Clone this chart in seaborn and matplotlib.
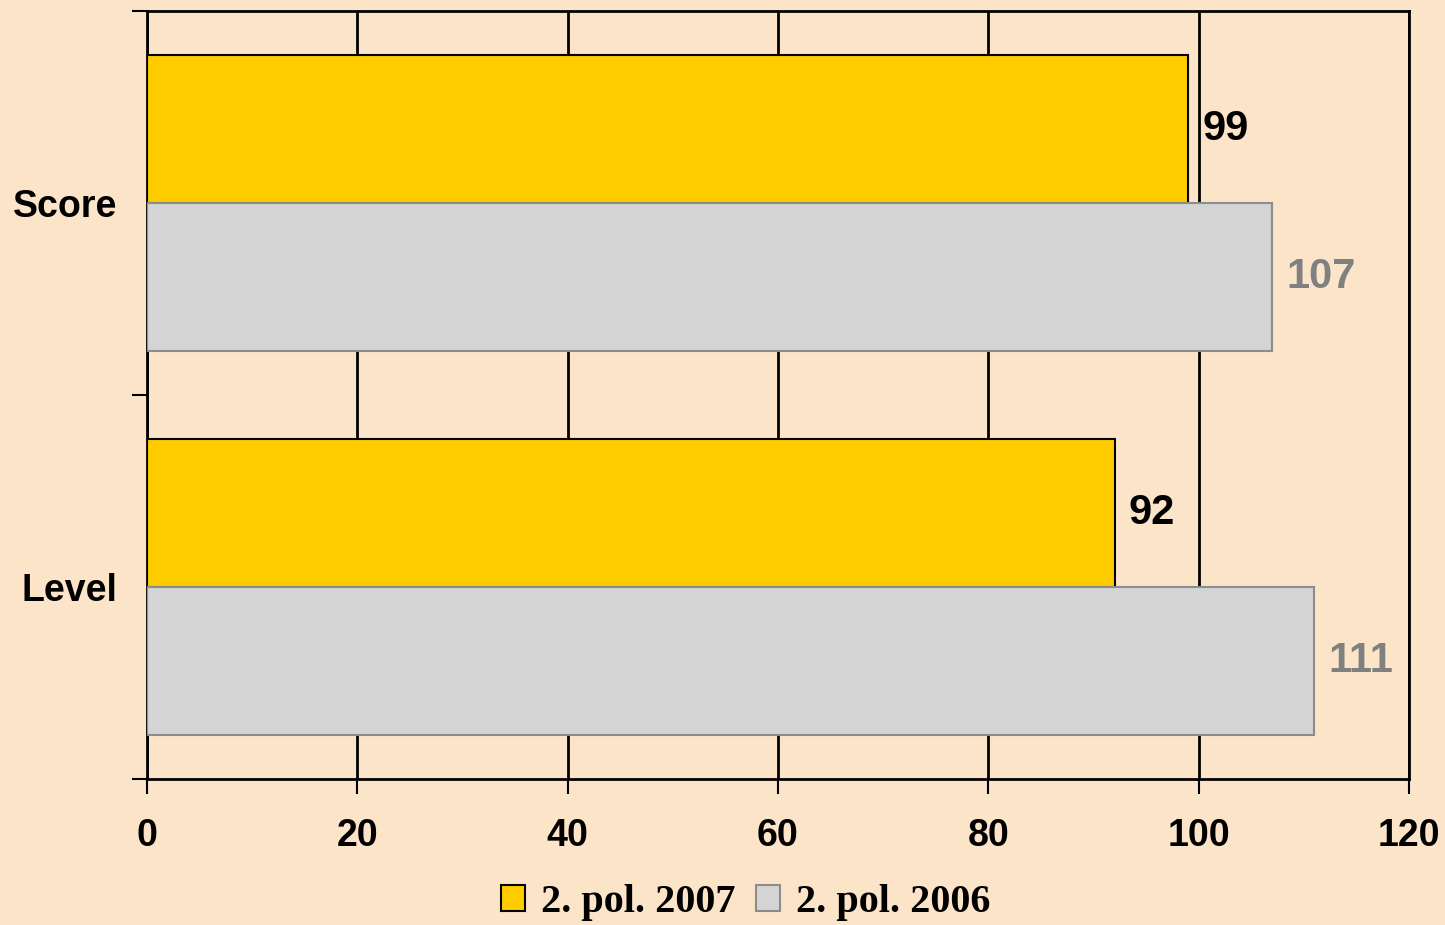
import pandas as pd
import seaborn as sns
import matplotlib.pyplot as plt
from matplotlib.patches import Patch

# data
indicators = ["Score", "Level"]
periods = ["2. pol. 2007", "2. pol. 2006"]
values_2007 = [99, 92]
values_2006 = [107, 111]

df = pd.DataFrame({
    "indicator": indicators * 2,
    "period": [periods[0]] * 2 + [periods[1]] * 2,
    "value": values_2007 + values_2006,
})

bg = "#FCE4C8"
yellow = "#FFCC00"
grey = "#D4D4D4"
grey_edge = "#8C8C8C"

sns.set_theme(style="white")
plt.rcParams["font.family"] = ["Liberation Sans", "DejaVu Sans"]

fig = plt.figure(figsize=(14.45, 9.25), dpi=100, facecolor=bg)
ax = fig.add_axes([0.1017, 0.1578, 0.8734, 0.8303])
ax.set_facecolor(bg)

sns.barplot(data=df, y="indicator", x="value", hue="period", orient="h",
            order=indicators, hue_order=periods, saturation=1,
            palette=[yellow, grey], width=0.77, ax=ax, legend=False)

# bar edges and value labels
for cont, ec, tc in zip(ax.containers, ["black", grey_edge], ["black", "#808080"]):
    for bar in cont:
        bar.set_edgecolor(ec)
        bar.set_linewidth(1.5)
        bar.set_zorder(3)
    ax.bar_label(cont, padding=10, fontsize=30, fontweight="bold", color=tc)

ax.set_xlim(0, 120)
ax.set_ylim(1.5, -0.5)
ax.set_xticks(range(0, 121, 20))
ax.xaxis.grid(True, color="black", linewidth=2)
ax.set_axisbelow(True)

# category boundary ticks on the y axis
ax.set_yticks([0, 1])
ax.set_yticklabels(indicators)
ax.set_yticks([-0.5, 0.5, 1.5], minor=True)
ax.tick_params(axis="y", which="major", length=0, pad=21, labelsize=27)
ax.tick_params(axis="y", which="minor", length=11, width=1.5, color="black", left=True)
ax.tick_params(axis="x", length=11, width=1.5, color="black", bottom=True, pad=17, labelsize=27)
for lbl in ax.get_xticklabels() + ax.get_yticklabels():
    lbl.set_fontweight("bold")
    lbl.set_color("black")

ax.set_xlabel("")
ax.set_ylabel("")
for s in ax.spines.values():
    s.set_visible(True)
    s.set_color("black")
    s.set_linewidth(2)

handles = [Patch(facecolor=yellow, edgecolor="black", linewidth=1.5),
           Patch(facecolor=grey, edgecolor=grey_edge, linewidth=1.5)]
leg = fig.legend(handles, periods, loc="center", bbox_to_anchor=(0.516, 0.024), ncol=2,
                 frameon=False, handlelength=0.6, handleheight=0.6, handletextpad=0.4,
                 columnspacing=0.5, borderaxespad=0,
                 prop={"family": "Liberation Serif", "weight": "bold", "size": 29})
for t in leg.get_texts():
    t.set_color("black")

fig.savefig("out.png", dpi=100, facecolor=bg)
